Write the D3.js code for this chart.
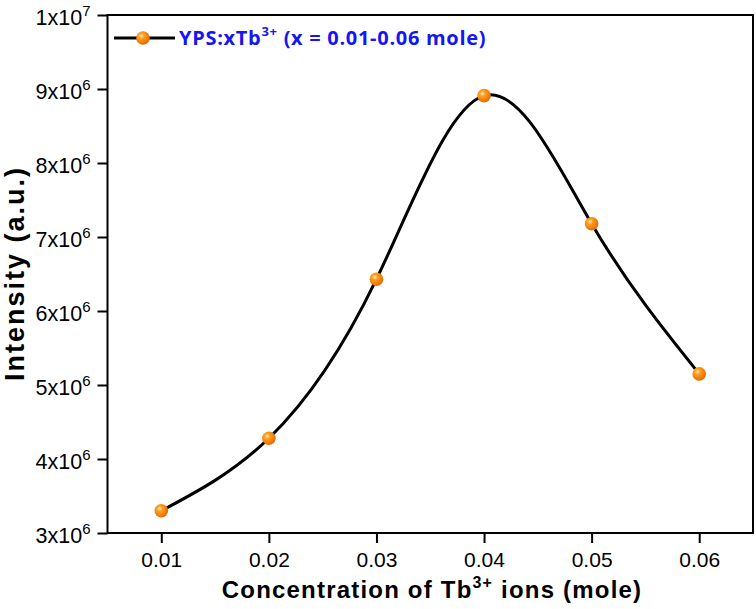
<!DOCTYPE html>
<html><head><meta charset="utf-8">
<script src="https://cdn.jsdelivr.net/npm/d3@7"></script>
<style>body{margin:0;background:#fff}svg{display:block}</style>
</head><body>
<script>
const concentrations = [0.01, 0.02, 0.03, 0.04, 0.05, 0.06];
const intensities = [3.30e6, 4.28e6, 6.43e6, 8.91e6, 7.18e6, 5.15e6];
const xTicks = [0.01, 0.02, 0.03, 0.04, 0.05, 0.06];
const yTickMantissa = [3, 4, 5, 6, 7, 8, 9, 1];
const yTickExp = [6, 6, 6, 6, 6, 6, 6, 7];
const legendLabel = ["YPS:xTb", "3+", " (x = 0.01-0.06 mole)"];

const W = 756, H = 609;
const m = {l: 107.5, r: 753, t: 15, b: 533};
const FONT = "'Liberation Sans', Arial, sans-serif";
const svg = d3.select("body").append("svg").attr("width", W).attr("height", H);
const defs = svg.append("defs");
const g = defs.append("radialGradient").attr("id", "ball").attr("cx", "38%").attr("cy", "35%").attr("r", "65%");
g.append("stop").attr("offset", "0%").attr("stop-color", "#fff3c0");
g.append("stop").attr("offset", "30%").attr("stop-color", "#ffa020");
g.append("stop").attr("offset", "100%").attr("stop-color", "#e86a00");

const x = d3.scaleLinear().domain([0.005, 0.065]).range([m.l, m.r]);
const y = d3.scaleLinear().domain([3e6, 1e7]).range([m.b, m.t]);

// frame
svg.append("rect").attr("x", m.l).attr("y", m.t).attr("width", m.r - m.l).attr("height", m.b - m.t)
  .attr("fill", "none").attr("stroke", "#000").attr("stroke-width", 2);

// x axis
const xa = svg.append("g").attr("transform", `translate(0,${m.b})`)
  .call(d3.axisBottom(x).tickValues(xTicks).tickSize(10).tickPadding(3).tickSizeOuter(0).tickFormat(d3.format(".2f")));
xa.select(".domain").remove();
xa.selectAll("line").attr("stroke-width", 2);
xa.selectAll("text").attr("font-family", FONT).attr("font-size", 21).attr("dy", 21);

// y axis
const yVals = yTickMantissa.map((mm, i) => mm * Math.pow(10, yTickExp[i]));
const ya = svg.append("g").attr("transform", `translate(${m.l},0)`)
  .call(d3.axisLeft(y).tickValues(yVals).tickSize(10).tickSizeOuter(0).tickFormat(""));
ya.select(".domain").remove();
ya.selectAll("line").attr("stroke-width", 2);
ya.selectAll(".tick").each(function(d, i) {
  const t = d3.select(this).append("text").attr("x", -17).attr("y", 9)
    .attr("text-anchor", "end").attr("fill", "#000")
    .attr("font-family", FONT).attr("font-size", 21.5);
  t.append("tspan").text(yTickMantissa[i] + "x10");
  t.append("tspan").attr("font-size", 15).attr("dy", -9).text(yTickExp[i]);
});

// axis titles
const xt = svg.append("text").attr("x", 432).attr("y", 598).attr("text-anchor", "middle")
  .attr("font-family", FONT).attr("font-weight", "bold").attr("font-size", 24).attr("letter-spacing", 1.2);
xt.append("tspan").text("Concentration of Tb");
xt.append("tspan").attr("font-size", 16).attr("dy", -10).text("3+");
xt.append("tspan").attr("dy", 10).text(" ions (mole)");

svg.append("text").attr("transform", `translate(24,273.5) rotate(-90)`)
  .attr("text-anchor", "middle").attr("font-family", FONT)
  .attr("font-weight", "bold").attr("font-size", 27).attr("letter-spacing", 2).text("Intensity (a.u.)");

// curve
const data = concentrations.map((c, i) => [c, intensities[i]]);
svg.append("path").datum(data)
  .attr("d", d3.line().x(d => x(d[0])).y(d => y(d[1])).curve(d3.curveNatural))
  .attr("fill", "none").attr("stroke", "#000").attr("stroke-width", 3);
svg.selectAll(".pt").data(data).join("circle").attr("class", "pt")
  .attr("cx", d => x(d[0])).attr("cy", d => y(d[1])).attr("r", 6.8).attr("fill", "url(#ball)");

// legend
svg.append("line").attr("x1", 114).attr("x2", 175).attr("y1", 38).attr("y2", 38)
  .attr("stroke", "#000").attr("stroke-width", 3);
svg.append("circle").attr("cx", 143).attr("cy", 38).attr("r", 6.8).attr("fill", "url(#ball)");
const lt = svg.append("text").attr("x", 179).attr("y", 45).attr("fill", "#1515f5")
  .attr("font-family", "'Open Sans', 'Liberation Sans', sans-serif").attr("font-weight", "bold")
  .attr("font-size", 20).attr("letter-spacing", 0.7);
lt.append("tspan").text(legendLabel[0]);
lt.append("tspan").attr("font-size", 13).attr("dy", -9).text(legendLabel[1]);
lt.append("tspan").attr("dy", 9).text(legendLabel[2]);
</script>
</body></html>
